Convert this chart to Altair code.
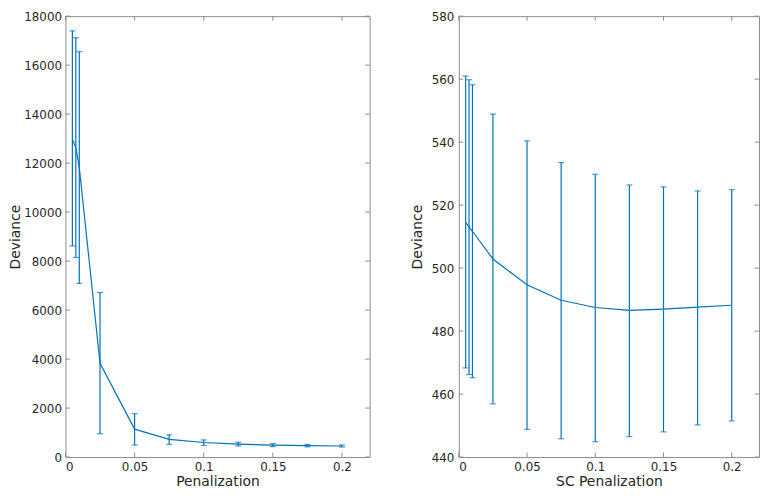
import altair as alt
import pandas as pd

# ---- data ----
penalty = [0.005, 0.0075, 0.01, 0.025, 0.05, 0.075, 0.1, 0.125, 0.15, 0.175, 0.2]

mean_left = [12980, 12630, 11820, 3830, 1140, 725, 595, 527, 487, 465, 452]
upper_left = [17400, 17120, 16550, 6720, 1770, 910, 700, 605, 550, 515, 495]
lower_left = [8620, 8150, 7090, 950, 490, 520, 470, 450, 425, 415, 410]

mean_right = [514.5, 513.0, 511.7, 502.9, 494.7, 489.8, 487.5, 486.6, 487.0, 487.6, 488.2]
upper_right = [561.0, 559.8, 558.2, 548.9, 540.4, 533.5, 529.8, 526.4, 525.8, 524.5, 524.9]
lower_right = [468.3, 466.2, 465.2, 456.9, 448.8, 445.8, 444.9, 446.5, 448.0, 450.2, 451.5]

x_ticks = [0, 0.05, 0.1, 0.15, 0.2]
y_ticks_left = [0, 2000, 4000, 6000, 8000, 10000, 12000, 14000, 16000, 18000]
y_ticks_right = [440, 460, 480, 500, 520, 540, 560, 580]

BLUE = "#0072BD"
FRAME = "#8c8c8c"
TEXT = "#262626"
H = 445
TL = 4.5  # inward tick length


def panel(mean, lo, hi, yticks, ydom, xtitle, width, title_pad, label_pad):
    df = pd.DataFrame({"x": penalty, "mean": mean, "lo": lo, "hi": hi})
    xs = alt.Scale(domain=[0, 0.22], nice=False, zero=False)
    ys = alt.Scale(domain=ydom, nice=False, zero=False)
    xax = alt.Axis(values=x_ticks, format="~g", tickSize=0, domain=False, grid=False,
                   labelPadding=5, titlePadding=2, labelFontSize=12, titleFontSize=14)
    yax = alt.Axis(values=yticks, format="d", tickSize=0, domain=False, grid=False,
                   labelPadding=label_pad, titlePadding=title_pad, labelFontSize=12, titleFontSize=14)

    def X(f):
        return alt.X(f, type="quantitative", scale=xs, axis=xax, title=xtitle)

    def Y(f):
        return alt.Y(f, type="quantitative", scale=ys, axis=yax, title="Deviance")

    base = alt.Chart(df)
    line = base.mark_line(color=BLUE, strokeWidth=1.2).encode(x=X("x"), y=Y("mean"))
    bars = base.mark_rule(color=BLUE, strokeWidth=1.2).encode(x=X("x"), y=Y("lo"), y2="hi")
    cap_lo = base.mark_tick(color=BLUE, orient="horizontal", size=6, thickness=1.2).encode(x=X("x"), y=Y("lo"))
    cap_hi = base.mark_tick(color=BLUE, orient="horizontal", size=6, thickness=1.2).encode(x=X("x"), y=Y("hi"))

    xt = alt.Chart(pd.DataFrame({"t": x_ticks}))
    yt = alt.Chart(pd.DataFrame({"t": yticks}))
    tb = xt.mark_rule(color=FRAME, strokeWidth=1).encode(x=X("t"), y=alt.value(H), y2=alt.value(H - TL))
    tt = xt.mark_rule(color=FRAME, strokeWidth=1).encode(x=X("t"), y=alt.value(0), y2=alt.value(TL))
    tl = yt.mark_rule(color=FRAME, strokeWidth=1).encode(y=Y("t"), x=alt.value(0), x2=alt.value(TL))
    tr = yt.mark_rule(color=FRAME, strokeWidth=1).encode(y=Y("t"), x=alt.value(width - TL), x2=alt.value(width))

    return alt.layer(tb, tt, tl, tr, bars, cap_lo, cap_hi, line).properties(width=width, height=H)


left = panel(mean_left, lower_left, upper_left, y_ticks_left, [0, 18000], "Penalization", 307, 1, 4)
right = panel(mean_right, lower_right, upper_right, y_ticks_right, [440, 580], "SC Penalization", 303, 7, 5)

chart = alt.hconcat(left, right, spacing=39).properties(
    padding={"left": 0, "top": -1, "right": 0, "bottom": -3}
).configure(
    font="DejaVu Sans"
).configure_view(
    stroke=FRAME, strokeWidth=1
).configure_axis(
    labelColor=TEXT, titleColor=TEXT, titleFontWeight="normal", labelFont="DejaVu Sans", titleFont="DejaVu Sans"
)

chart.save("out.html", embed_options={"renderer": "svg", "actions": False})
